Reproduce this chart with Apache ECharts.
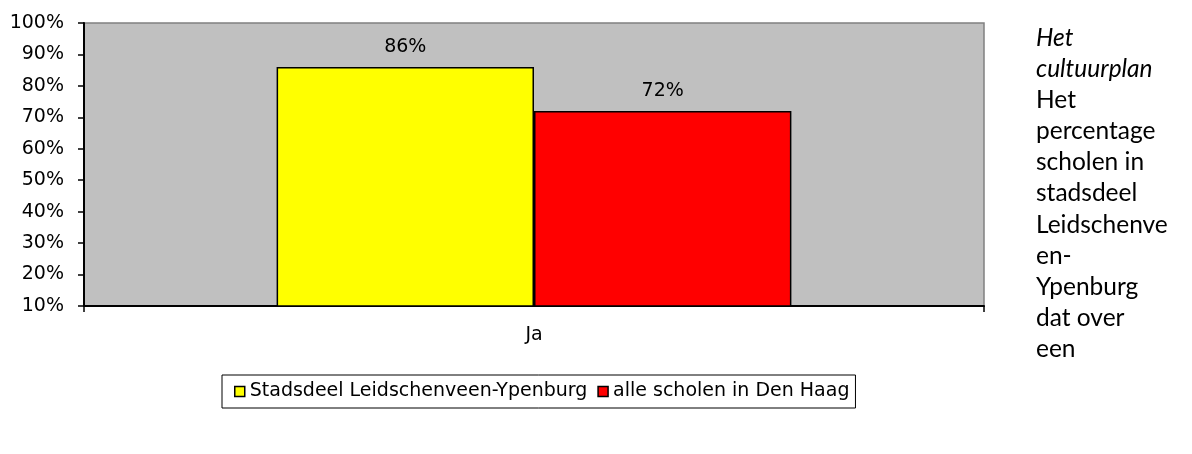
<!DOCTYPE html>
<html>
<head>
<meta charset="utf-8">
<script src="https://cdn.jsdelivr.net/npm/echarts@6/dist/echarts.min.js"></script>
<style>
  html, body { margin: 0; padding: 0; background: #fff; }
  .wrap { position: relative; width: 1192px; height: 454px; }
  #chart { position: absolute; left: 0; top: 0; width: 1192px; height: 454px; }
  .side {
    position: absolute; left: 1036px; top: 21px;
    font-family: Lato, "Open Sans", sans-serif; font-size: 24.5px;
    line-height: 31.1px; color: #000; white-space: nowrap;
  }
  .side i { font-style: italic; }
</style>
</head>
<body>
<div class="wrap">
  <div id="chart"></div>
  <div class="side">
    <i>Het</i><br><i>cultuurplan</i><br>Het<br>percentage<br>scholen in<br>stadsdeel<br>Leidschenve<br>en-<br>Ypenburg<br>dat over<br>een
  </div>
</div>
<script>
  // ==== data ====
  const categories = ['Ja']
  const seriesNames = ['Stadsdeel Leidschenveen-Ypenburg', 'alle scholen in Den Haag']
  const stadsdeelValues = [86]
  const denHaagValues = [72]
  const seriesColors = ['#FFFF00', '#FF0000']

  const font = 'DejaVu Sans, Verdana, sans-serif'
  const fontSize = 19

  const chart = echarts.init(document.getElementById('chart'))

  const makeSeries = (name, data, color) => ({
    name,
    type: 'bar',
    data,
    barGap: '0%',
    barCategoryGap: '42.8%',
    itemStyle: { color, borderColor: '#000', borderWidth: 1.5 },
    label: {
      show: true,
      position: 'top',
      distance: 10,
      formatter: '{c}%',
      color: '#000',
      fontFamily: font,
      fontSize
    }
  })

  chart.setOption({
    animation: false,
    grid: {
      left: 84, top: 23, right: 208, bottom: 148,
      show: true,
      backgroundColor: '#C0C0C0',
      borderColor: '#808080',
      borderWidth: 1.5
    },
    legend: {
      left: 222,
      top: 375,
      itemWidth: 10,
      itemHeight: 10,
      itemGap: 10,
      padding: [7, 6, 7, 12],
      borderColor: '#000',
      borderWidth: 1,
      icon: 'rect',
      textStyle: { color: '#000', fontFamily: font, fontSize },
      data: seriesNames.map((name, i) => ({
        name,
        itemStyle: { color: seriesColors[i], borderColor: '#000', borderWidth: 1.5 }
      }))
    },
    xAxis: {
      type: 'category',
      data: categories,
      axisLine: { lineStyle: { color: '#000', width: 2 } },
      axisTick: { show: true, length: 6, lineStyle: { color: '#000', width: 1.5 } },
      axisLabel: { color: '#000', fontFamily: font, fontSize, margin: 20 }
    },
    yAxis: {
      type: 'value',
      min: 10,
      max: 100,
      interval: 10,
      axisLine: { show: true, lineStyle: { color: '#000', width: 2 } },
      axisTick: { show: true, length: 6, lineStyle: { color: '#000', width: 1.5 } },
      splitLine: { show: false },
      axisLabel: {
        color: '#000',
        fontFamily: font,
        fontSize,
        margin: 20,
        formatter: '{value}%'
      }
    },
    series: [
      makeSeries(seriesNames[0], stadsdeelValues, seriesColors[0]),
      makeSeries(seriesNames[1], denHaagValues, seriesColors[1])
    ]
  })
</script>
</body>
</html>
